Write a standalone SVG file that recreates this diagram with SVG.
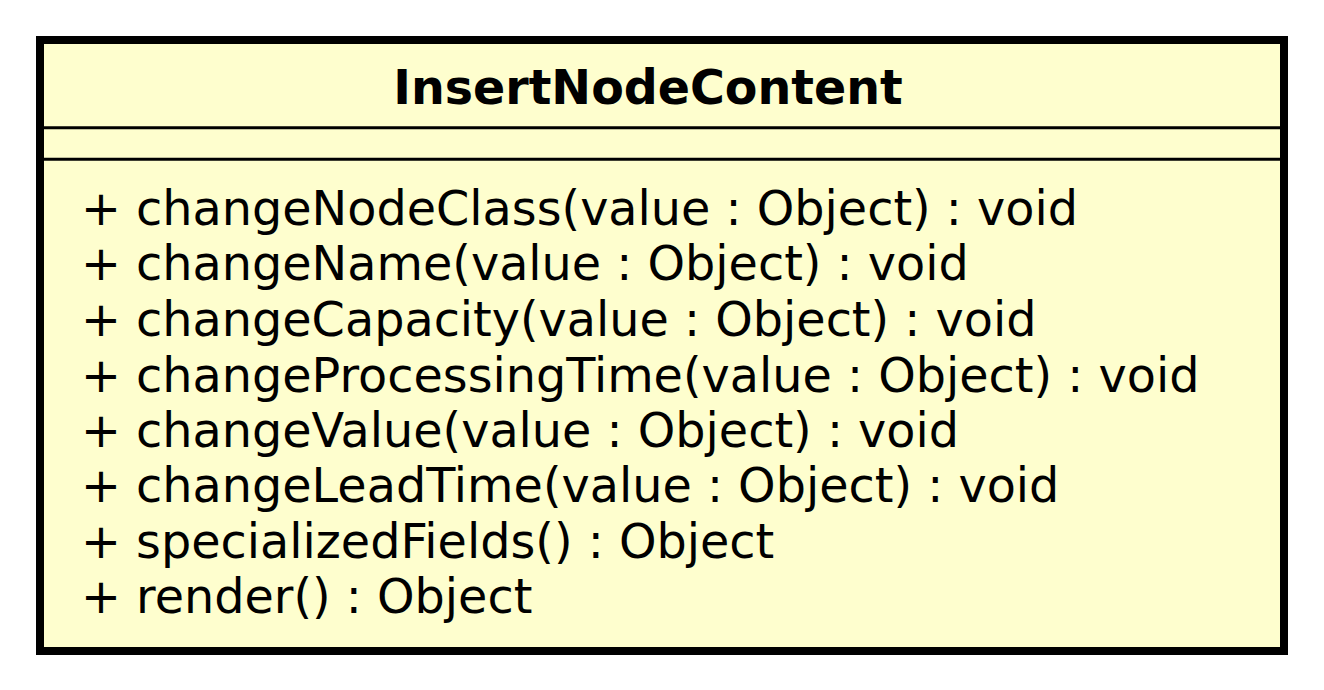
<svg xmlns="http://www.w3.org/2000/svg" width="1324" height="690" viewBox="0 0 1324 690">
<style>
.t{font-family:"DejaVu Sans",sans-serif;fill:#000}
.title{font-size:47.5px;font-weight:bold;text-anchor:middle}
.m{font-size:47.7px}
</style>
<rect width="1324" height="690" fill="#fff"/>
<g id="InsertNodeContent">
<rect x="40" y="40" width="1244" height="611" fill="#fefece" stroke="#000" stroke-width="8"/>
<line x1="44" y1="127.7" x2="1280" y2="127.7" stroke="#000" stroke-width="3"/>
<line x1="44" y1="159.3" x2="1280" y2="159.3" stroke="#000" stroke-width="3"/>
<text class="t title" x="648" y="104">InsertNodeContent</text>
<text class="t m" x="81" y="225">+ changeNodeClass(value : Object) : void</text>
<text class="t m" x="81" y="280">+ changeName(value : Object) : void</text>
<text class="t m" x="81" y="336">+ changeCapacity(value : Object) : void</text>
<text class="t m" x="81" y="391.5">+ changeProcessingTime(value : Object) : void</text>
<text class="t m" x="81" y="447">+ changeValue(value : Object) : void</text>
<text class="t m" x="81" y="502">+ changeLeadTime(value : Object) : void</text>
<text class="t m" x="81" y="557.5">+ specializedFields() : Object</text>
<text class="t m" x="81" y="613">+ render() : Object</text>
</g>
</svg>
